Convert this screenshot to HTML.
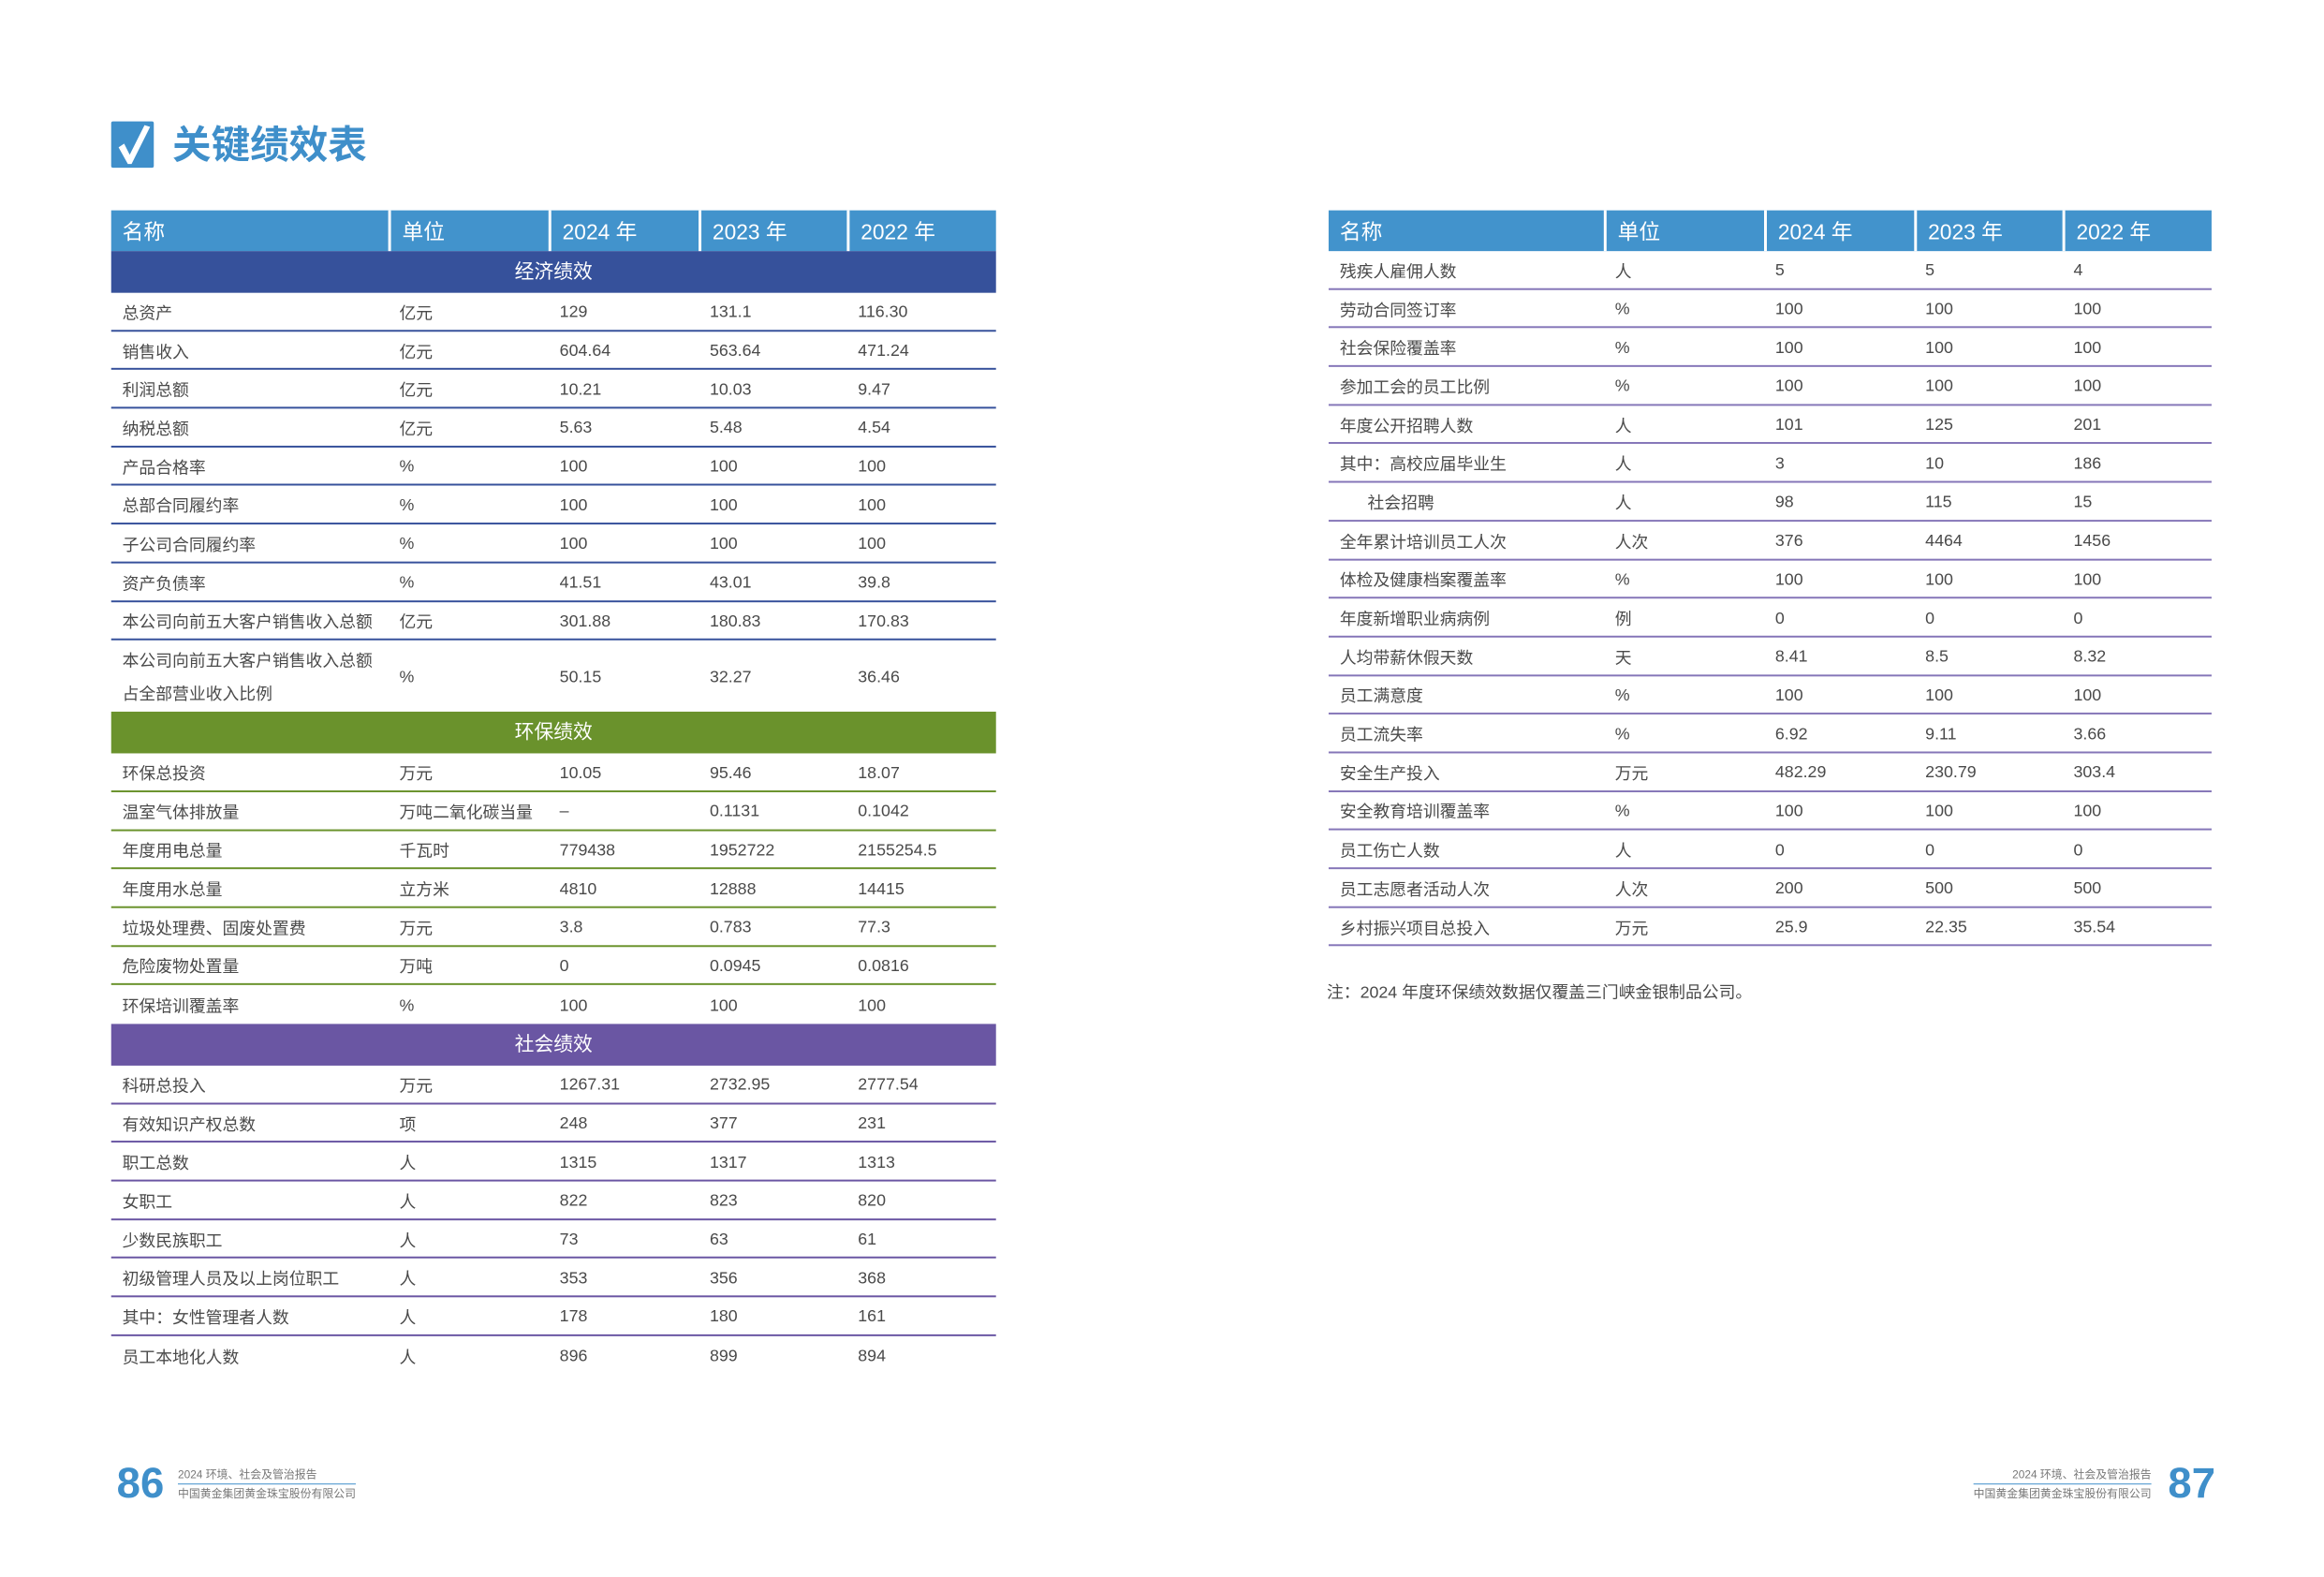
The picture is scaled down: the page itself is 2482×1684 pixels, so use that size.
<!DOCTYPE html>
<html><head><meta charset="utf-8">
<style>
*{margin:0;padding:0;box-sizing:border-box}
body{width:2482px;height:1684px;background:#fff;position:relative;overflow:hidden;font-family:"Liberation Sans","Noto Sans CJK SC",sans-serif;color:#4a4a4a}
#w{position:absolute;left:0;top:0;width:2482px;height:1684px;transform:scale(0.9895);transform-origin:0 0}
.t{position:absolute}
.hd{display:flex;height:44px;background:#4293cc;color:#fff;font-size:23px;align-items:center}
.hd div{height:44px;line-height:46px;padding-left:12px;border-left:3px solid #fff}
.hd div:first-child{border-left:none}
.r{display:flex;height:41.7px;align-items:center;font-size:18px;border-bottom:2px solid #36519b;padding-top:2px}
.r div{padding-left:12px;white-space:nowrap}
.g .r{border-bottom-color:#6a922c}
.p .r{border-bottom-color:#6a56a3}
.q .r{border-bottom-color:#8576b8}
.band{height:45px;color:#fff;font-size:21px;text-align:center;line-height:45px}
.c1{width:299px}.c2{width:173px}.c3{width:162px}.c4{width:160px}.c5{width:161px}
.q .c1{width:297px}
.ft{font-size:12px;color:#777;line-height:16px;width:220px;white-space:nowrap}
</style></head><body><div id="w">

<div class="t" style="left:120px;top:131px;width:46px;height:50px;background:#3f8fca;border-radius:2px">
<svg width="46" height="50" viewBox="0 0 46 50"><path d="M8 28 L14 24 L20 36 L36 4 L42 6 L22 46 L18 46 Z" fill="#fff"/></svg>
</div>
<div class="t" style="left:186px;top:132px;font-size:42px;font-weight:bold;color:#3f8fca;line-height:50px">关键绩效表</div>

<!-- LEFT TABLE -->
<div class="t" style="left:120px;top:227px;width:955px">
<div class="hd"><div class="c1">名称</div><div class="c2">单位</div><div class="c3">2024 年</div><div class="c4">2023 年</div><div class="c5">2022 年</div></div>
<div class="band" style="background:#36519b">经济绩效</div>
<div class="r"><div class="c1">总资产</div><div class="c2">亿元</div><div class="c3">129</div><div class="c4">131.1</div><div class="c5">116.30</div></div>
<div class="r"><div class="c1">销售收入</div><div class="c2">亿元</div><div class="c3">604.64</div><div class="c4">563.64</div><div class="c5">471.24</div></div>
<div class="r"><div class="c1">利润总额</div><div class="c2">亿元</div><div class="c3">10.21</div><div class="c4">10.03</div><div class="c5">9.47</div></div>
<div class="r"><div class="c1">纳税总额</div><div class="c2">亿元</div><div class="c3">5.63</div><div class="c4">5.48</div><div class="c5">4.54</div></div>
<div class="r"><div class="c1">产品合格率</div><div class="c2">%</div><div class="c3">100</div><div class="c4">100</div><div class="c5">100</div></div>
<div class="r"><div class="c1">总部合同履约率</div><div class="c2">%</div><div class="c3">100</div><div class="c4">100</div><div class="c5">100</div></div>
<div class="r"><div class="c1">子公司合同履约率</div><div class="c2">%</div><div class="c3">100</div><div class="c4">100</div><div class="c5">100</div></div>
<div class="r"><div class="c1">资产负债率</div><div class="c2">%</div><div class="c3">41.51</div><div class="c4">43.01</div><div class="c5">39.8</div></div>
<div class="r"><div class="c1">本公司向前五大客户销售收入总额</div><div class="c2">亿元</div><div class="c3">301.88</div><div class="c4">180.83</div><div class="c5">170.83</div></div>
<div class="r" style="height:77px;border-bottom:none"><div class="c1" style="line-height:36px">本公司向前五大客户销售收入总额<br>占全部营业收入比例</div><div class="c2">%</div><div class="c3">50.15</div><div class="c4">32.27</div><div class="c5">36.46</div></div>
<div class="band" style="background:#6a922c">环保绩效</div>
<div class="g">
<div class="r"><div class="c1">环保总投资</div><div class="c2">万元</div><div class="c3">10.05</div><div class="c4">95.46</div><div class="c5">18.07</div></div>
<div class="r"><div class="c1">温室气体排放量</div><div class="c2">万吨二氧化碳当量</div><div class="c3">–</div><div class="c4">0.1131</div><div class="c5">0.1042</div></div>
<div class="r"><div class="c1">年度用电总量</div><div class="c2">千瓦时</div><div class="c3">779438</div><div class="c4">1952722</div><div class="c5">2155254.5</div></div>
<div class="r"><div class="c1">年度用水总量</div><div class="c2">立方米</div><div class="c3">4810</div><div class="c4">12888</div><div class="c5">14415</div></div>
<div class="r"><div class="c1">垃圾处理费、固废处置费</div><div class="c2">万元</div><div class="c3">3.8</div><div class="c4">0.783</div><div class="c5">77.3</div></div>
<div class="r"><div class="c1">危险废物处置量</div><div class="c2">万吨</div><div class="c3">0</div><div class="c4">0.0945</div><div class="c5">0.0816</div></div>
<div class="r" style="border-bottom:none"><div class="c1">环保培训覆盖率</div><div class="c2">%</div><div class="c3">100</div><div class="c4">100</div><div class="c5">100</div></div>
</div>
<div class="band" style="background:#6a56a3">社会绩效</div>
<div class="p">
<div class="r"><div class="c1">科研总投入</div><div class="c2">万元</div><div class="c3">1267.31</div><div class="c4">2732.95</div><div class="c5">2777.54</div></div>
<div class="r"><div class="c1">有效知识产权总数</div><div class="c2">项</div><div class="c3">248</div><div class="c4">377</div><div class="c5">231</div></div>
<div class="r"><div class="c1">职工总数</div><div class="c2">人</div><div class="c3">1315</div><div class="c4">1317</div><div class="c5">1313</div></div>
<div class="r"><div class="c1">女职工</div><div class="c2">人</div><div class="c3">822</div><div class="c4">823</div><div class="c5">820</div></div>
<div class="r"><div class="c1">少数民族职工</div><div class="c2">人</div><div class="c3">73</div><div class="c4">63</div><div class="c5">61</div></div>
<div class="r"><div class="c1">初级管理人员及以上岗位职工</div><div class="c2">人</div><div class="c3">353</div><div class="c4">356</div><div class="c5">368</div></div>
<div class="r"><div class="c1">其中：女性管理者人数</div><div class="c2">人</div><div class="c3">178</div><div class="c4">180</div><div class="c5">161</div></div>
<div class="r" style="border-bottom:none"><div class="c1">员工本地化人数</div><div class="c2">人</div><div class="c3">896</div><div class="c4">899</div><div class="c5">894</div></div>
</div>
</div>

<!-- RIGHT TABLE -->
<div class="t q" style="left:1434px;top:227px;width:953px">
<div class="hd"><div class="c1">名称</div><div class="c2">单位</div><div class="c3">2024 年</div><div class="c4">2023 年</div><div class="c5">2022 年</div></div>
<div class="r"><div class="c1">残疾人雇佣人数</div><div class="c2">人</div><div class="c3">5</div><div class="c4">5</div><div class="c5">4</div></div>
<div class="r"><div class="c1">劳动合同签订率</div><div class="c2">%</div><div class="c3">100</div><div class="c4">100</div><div class="c5">100</div></div>
<div class="r"><div class="c1">社会保险覆盖率</div><div class="c2">%</div><div class="c3">100</div><div class="c4">100</div><div class="c5">100</div></div>
<div class="r"><div class="c1">参加工会的员工比例</div><div class="c2">%</div><div class="c3">100</div><div class="c4">100</div><div class="c5">100</div></div>
<div class="r"><div class="c1">年度公开招聘人数</div><div class="c2">人</div><div class="c3">101</div><div class="c4">125</div><div class="c5">201</div></div>
<div class="r"><div class="c1">其中：高校应届毕业生</div><div class="c2">人</div><div class="c3">3</div><div class="c4">10</div><div class="c5">186</div></div>
<div class="r"><div class="c1" style="padding-left:42px">社会招聘</div><div class="c2">人</div><div class="c3">98</div><div class="c4">115</div><div class="c5">15</div></div>
<div class="r"><div class="c1">全年累计培训员工人次</div><div class="c2">人次</div><div class="c3">376</div><div class="c4">4464</div><div class="c5">1456</div></div>
<div class="r"><div class="c1">体检及健康档案覆盖率</div><div class="c2">%</div><div class="c3">100</div><div class="c4">100</div><div class="c5">100</div></div>
<div class="r"><div class="c1">年度新增职业病病例</div><div class="c2">例</div><div class="c3">0</div><div class="c4">0</div><div class="c5">0</div></div>
<div class="r"><div class="c1">人均带薪休假天数</div><div class="c2">天</div><div class="c3">8.41</div><div class="c4">8.5</div><div class="c5">8.32</div></div>
<div class="r"><div class="c1">员工满意度</div><div class="c2">%</div><div class="c3">100</div><div class="c4">100</div><div class="c5">100</div></div>
<div class="r"><div class="c1">员工流失率</div><div class="c2">%</div><div class="c3">6.92</div><div class="c4">9.11</div><div class="c5">3.66</div></div>
<div class="r"><div class="c1">安全生产投入</div><div class="c2">万元</div><div class="c3">482.29</div><div class="c4">230.79</div><div class="c5">303.4</div></div>
<div class="r"><div class="c1">安全教育培训覆盖率</div><div class="c2">%</div><div class="c3">100</div><div class="c4">100</div><div class="c5">100</div></div>
<div class="r"><div class="c1">员工伤亡人数</div><div class="c2">人</div><div class="c3">0</div><div class="c4">0</div><div class="c5">0</div></div>
<div class="r"><div class="c1">员工志愿者活动人次</div><div class="c2">人次</div><div class="c3">200</div><div class="c4">500</div><div class="c5">500</div></div>
<div class="r"><div class="c1">乡村振兴项目总投入</div><div class="c2">万元</div><div class="c3">25.9</div><div class="c4">22.35</div><div class="c5">35.54</div></div>
</div>
<div class="t" style="left:1432px;top:1057px;font-size:18px;color:#4a4a4a">注：2024 年度环保绩效数据仅覆盖三门峡金银制品公司。</div>

<!-- FOOTERS -->
<div class="t" style="left:126px;top:1572px;font-size:46px;font-weight:bold;color:#3f8fca;line-height:56px">86</div>
<div class="t ft" style="left:192px;top:1583px">
<div style="border-bottom:1px solid #3f8fca;padding-bottom:2px;width:192px">2024 环境、社会及管治报告</div>
<div style="padding-top:2px">中国黄金集团黄金珠宝股份有限公司</div></div>

<div class="t" style="left:2340px;top:1572px;width:48px;text-align:right;font-size:46px;font-weight:bold;color:#3f8fca;line-height:56px">87</div>
<div class="t ft" style="left:2102px;top:1583px;text-align:right">
<div style="border-bottom:1px solid #3f8fca;padding-bottom:2px;margin-left:28px">2024 环境、社会及管治报告</div>
<div style="padding-top:2px">中国黄金集团黄金珠宝股份有限公司</div></div>
</div></body></html>
